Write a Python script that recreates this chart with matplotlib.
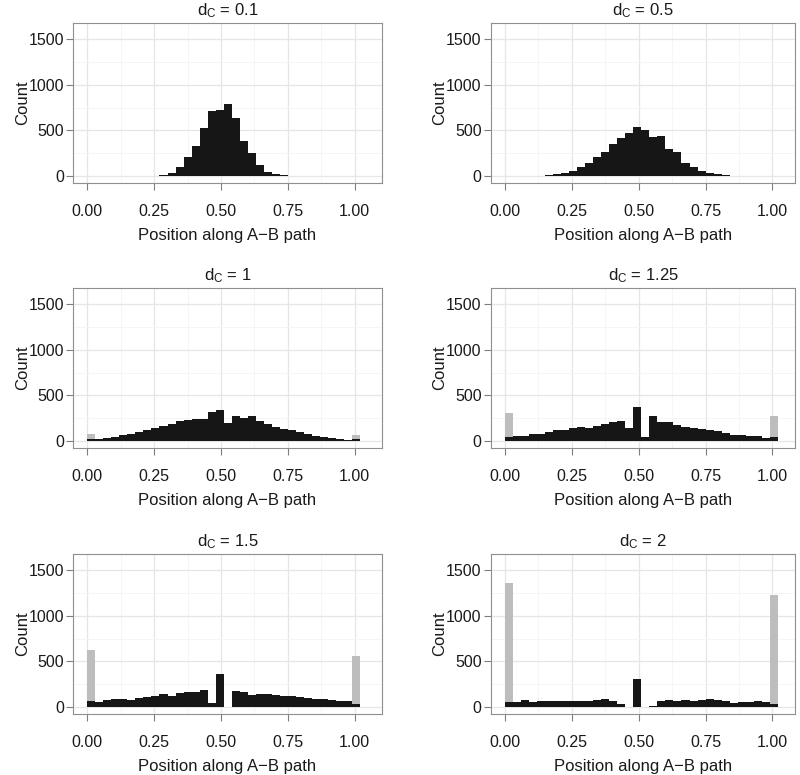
import numpy as np
import matplotlib
matplotlib.use("Agg")
import matplotlib.pyplot as plt
from matplotlib.ticker import FixedLocator

plt.rcParams['font.family'] = ['Liberation Sans', 'DejaVu Sans']
plt.rcParams['mathtext.fontset'] = 'custom'
plt.rcParams['mathtext.rm'] = 'Liberation Sans'
plt.rcParams['mathtext.it'] = 'Liberation Sans'

# ---- data ----
bin_width = 0.03
n_bins = 34
titles = ["0.1", "0.5", "1", "1.25", "1.5", "2"]

black_01 = [0, 0, 0, 0, 0, 0, 0, 1, 3, 11, 33, 99, 212, 333, 524, 718, 729,
            795, 637, 385, 256, 125, 48, 22, 7, 3, 1, 0, 0, 0, 0, 0, 0, 0]
black_05 = [0, 0, 1, 2, 4, 7, 18, 33, 59, 96, 140, 210, 268, 353, 412, 471, 540,
            500, 430, 434, 294, 265, 147, 99, 59, 37, 18, 11, 4, 2, 1, 0, 0, 0]
black_1 = [22, 26, 33, 48, 66, 81, 96, 121, 147, 169, 191, 217, 235, 246, 246, 320, 335,
           195, 272, 254, 272, 217, 191, 158, 132, 118, 99, 81, 55, 40, 37, 22, 11, 22]
black_125 = [44, 55, 59, 77, 77, 96, 118, 118, 140, 154, 143, 162, 191, 213, 224, 143, 368,
             44, 272, 206, 206, 180, 158, 147, 136, 125, 107, 88, 70, 66, 59, 59, 37, 44]
black_15 = [66, 58, 73, 88, 84, 80, 102, 110, 124, 139, 117, 150, 164, 161, 182, 40, 358,
            0, 179, 161, 128, 146, 139, 135, 117, 117, 106, 95, 88, 91, 73, 69, 66, 29]
black_2 = [55, 55, 73, 55, 69, 69, 62, 62, 66, 62, 69, 73, 84, 66, 36, 0, 303,
           0, 7, 69, 73, 69, 73, 69, 80, 88, 73, 62, 47, 55, 55, 62, 51, 33]

# endpoint counts (grey), stacked on top of black, first and last bin
grey_first = [0, 0, 59, 265, 558, 1306]
grey_last = [0, 0, 40, 228, 529, 1197]

black_all = [black_01, black_05, black_1, black_125, black_15, black_2]

xticks = [0.0, 0.25, 0.5, 0.75, 1.0]
xticklabels = ["0.00", "0.25", "0.50", "0.75", "1.00"]
yticks = [0, 500, 1000, 1500]

# ---- layout (pixels) ----
W, H = 800, 775
fig = plt.figure(figsize=(W / 100, H / 100), dpi=100)

scale_x = 267.4          # px per unit
scale_y = 0.0911         # px per count
xlo, xhi_l, xhi_r = -0.0525, 1.101, 1.085
ylo, yhi = -77, 1676
col_x0 = [87.3, 505.0]
row_top = [23.3, 288.3, 554.3]

black_c = "#161616"
grey_c = "#BDBDBD"
border_c = "#8F8F8F"
text_c = "#1A1A1A"

edges = np.arange(n_bins) * bin_width

for k in range(6):
    r, c = divmod(k, 2)
    xhi = xhi_l if c == 0 else xhi_r
    left_px = col_x0[c] + xlo * scale_x
    width_px = (xhi - xlo) * scale_x
    height_px = (yhi - ylo) * scale_y
    top_px = row_top[r]
    ax = fig.add_axes([left_px / W, 1 - (top_px + height_px) / H,
                       width_px / W, height_px / H])
    blk = np.array(black_all[k], dtype=float)
    gry = np.zeros(n_bins)
    gry[0] = grey_first[k]
    gry[-1] = grey_last[k]
    ax.bar(edges, blk, width=bin_width, align='edge', color=black_c,
           linewidth=0, zorder=3)
    ax.bar(edges, gry, width=bin_width, align='edge', bottom=blk,
           color=grey_c, linewidth=0, zorder=3)

    ax.set_xlim(xlo, xhi)
    ax.set_ylim(ylo, yhi)
    ax.set_xticks(xticks)
    ax.set_xticklabels(xticklabels)
    ax.set_yticks(yticks)
    ax.xaxis.set_minor_locator(FixedLocator([0.125, 0.375, 0.625, 0.875]))
    ax.yaxis.set_minor_locator(FixedLocator([250, 750, 1250]))
    ax.grid(which='major', color='#E6E6E6', linewidth=0.9, zorder=0)
    ax.grid(which='minor', color='#F4F4F4', linewidth=0.6, zorder=0)
    ax.set_axisbelow(True)
    for s in ax.spines.values():
        s.set_color(border_c)
        s.set_linewidth(0.8)
    ax.tick_params(which='major', direction='out', length=4.8, width=0.8,
                   color='#7F7F7F', labelsize=11.5, labelcolor=text_c, pad=2)
    ax.tick_params(axis='x', which='major', pad=10)
    ax.tick_params(which='minor', length=0)
    ax.set_xlabel("Position along A\u2212B path", fontsize=12, color=text_c,
                  labelpad=7)
    ax.set_ylabel("Count", fontsize=12, color=text_c, labelpad=-1)
    ax.set_title(r"d$_\mathregular{C}$ = " + titles[k], fontsize=12,
                 color=text_c, pad=6)

fig.savefig("out.png", dpi=100, facecolor='white')
